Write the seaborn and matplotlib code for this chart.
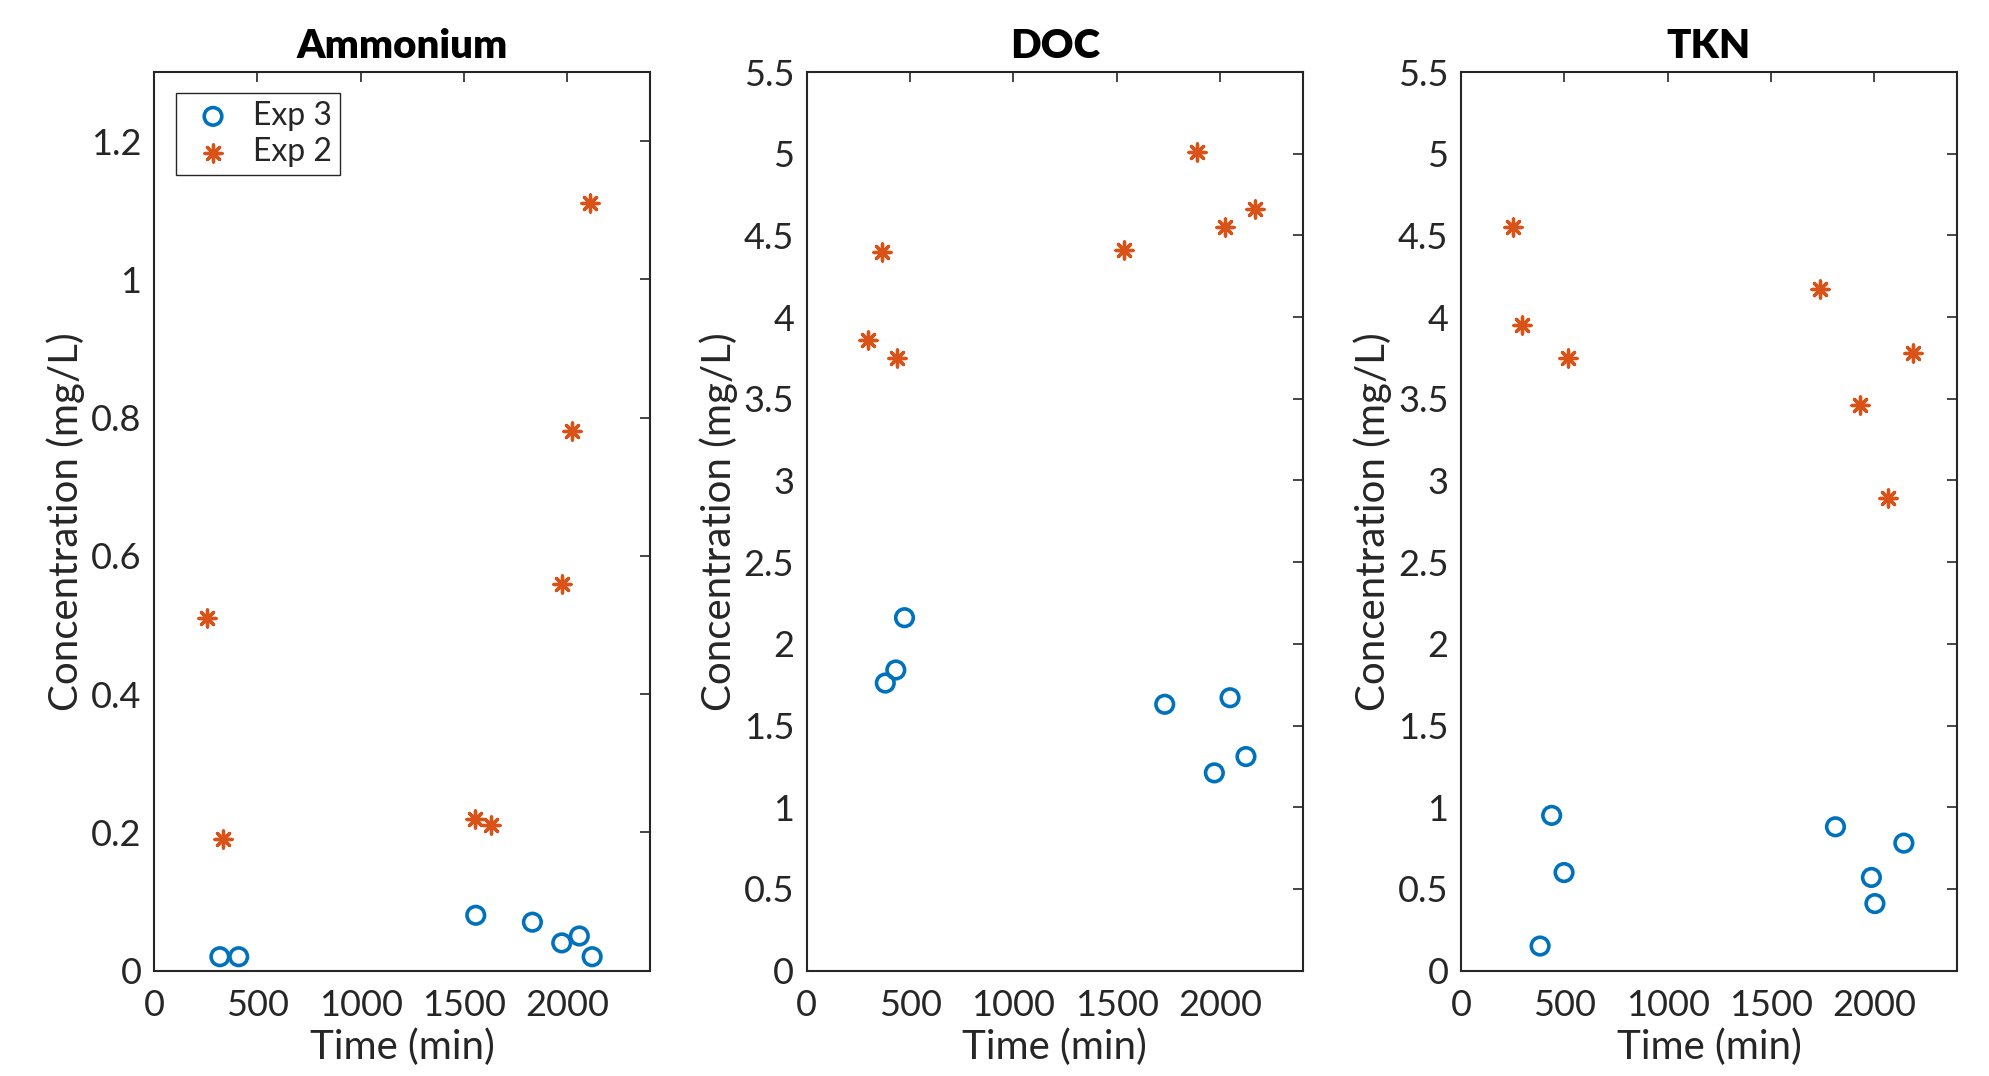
import matplotlib
matplotlib.use("Agg")
import matplotlib.pyplot as plt
import seaborn as sns
import pandas as pd
from matplotlib.ticker import FuncFormatter

# values (time in min, concentration in mg/L)
nh4_exp3_t = [319, 410, 1557, 1831, 1973, 2058, 2120]
nh4_exp3_c = [0.02, 0.02, 0.08, 0.07, 0.04, 0.05, 0.02]
nh4_exp2_t = [258, 334, 1555, 1631, 1973, 2024, 2111]
nh4_exp2_c = [0.51, 0.19, 0.22, 0.21, 0.56, 0.78, 1.11]

doc_exp3_t = [380, 431, 473, 1732, 1972, 2048, 2125]
doc_exp3_c = [1.76, 1.84, 2.16, 1.63, 1.21, 1.67, 1.31]
doc_exp2_t = [296, 362, 438, 1533, 1890, 2024, 2170]
doc_exp2_c = [3.86, 4.40, 3.75, 4.41, 5.01, 4.55, 4.66]

tkn_exp3_t = [383, 439, 499, 1812, 1986, 2003, 2143]
tkn_exp3_c = [0.15, 0.95, 0.60, 0.88, 0.57, 0.41, 0.78]
tkn_exp2_t = [253, 294, 516, 1739, 1932, 2068, 2185]
tkn_exp2_c = [4.55, 3.95, 3.75, 4.17, 3.46, 2.89, 3.78]

titles = ["Ammonium", "DOC", "TKN"]
ylims = [1.3, 5.5, 5.5]
ysteps = [0.2, 0.5, 0.5]
xticks = [0, 500, 1000, 1500, 2000]

BLUE = "#0072BD"
ORANGE = "#D95319"
TXT = "#262626"

sns.set_theme(style="white")
plt.rcParams["font.family"] = ["Lato", "DejaVu Sans"]

fig = plt.figure(figsize=(19.89, 10.76), dpi=100)
lefts = [0.0774, 0.4056, 0.7345]
panels = [
    (nh4_exp3_t, nh4_exp3_c, nh4_exp2_t, nh4_exp2_c),
    (doc_exp3_t, doc_exp3_c, doc_exp2_t, doc_exp2_c),
    (tkn_exp3_t, tkn_exp3_c, tkn_exp2_t, tkn_exp2_c),
]

for i, (t3, c3, t2, c2) in enumerate(panels):
    ax = fig.add_axes([lefts[i], 0.098, 0.2494, 0.835])
    d3 = pd.DataFrame({"t": t3, "c": c3})
    d2 = pd.DataFrame({"t": t2, "c": c2})
    sns.scatterplot(data=d3, x="t", y="c", ax=ax, marker="o", s=160,
                    facecolor="none", edgecolor=BLUE, linewidth=2.6,
                    label="Exp 3", zorder=3)
    sns.scatterplot(data=d2, x="t", y="c", ax=ax, marker=(8, 2, 0), s=150,
                    color=ORANGE, edgecolor=ORANGE, linewidth=2.4,
                    label="Exp 2", zorder=3)

    ax.set_xlim(0, 2400)
    ax.set_ylim(0, ylims[i])
    ax.set_xticks(xticks)
    n = int(round(ylims[i] / ysteps[i]))
    yt = [round(k * ysteps[i], 2) for k in range(n + 1)]
    ax.set_yticks(yt)
    ax.yaxis.set_major_formatter(FuncFormatter(lambda v, p: "%g" % v))
    ax.tick_params(direction="in", top=True, right=True, length=7,
                   width=1.2, labelsize=26, colors=TXT, pad=9)
    ax.tick_params(axis="x", pad=13)
    for sp in ax.spines.values():
        sp.set_color(TXT)
        sp.set_linewidth(1.5)
    ax.set_title(titles[i], fontsize=29, fontweight="heavy", color="black", pad=10)
    ax.set_xlabel("Time (min)", fontsize=29, color=TXT, labelpad=5)
    ax.set_ylabel("Concentration (mg/L)", fontsize=29, color=TXT, labelpad=4)

    if i == 0:
        leg = ax.legend(loc="upper left", fontsize=23, frameon=True,
                        fancybox=False, edgecolor=TXT, framealpha=1,
                        borderpad=0.25, handletextpad=0.35, labelspacing=0.2,
                        handlelength=1.8, borderaxespad=0,
                        bbox_to_anchor=(0.045, 0.977))
        leg.get_frame().set_linewidth(1.0)
    else:
        ax.get_legend().remove()

fig.savefig("out.png", dpi=100)
